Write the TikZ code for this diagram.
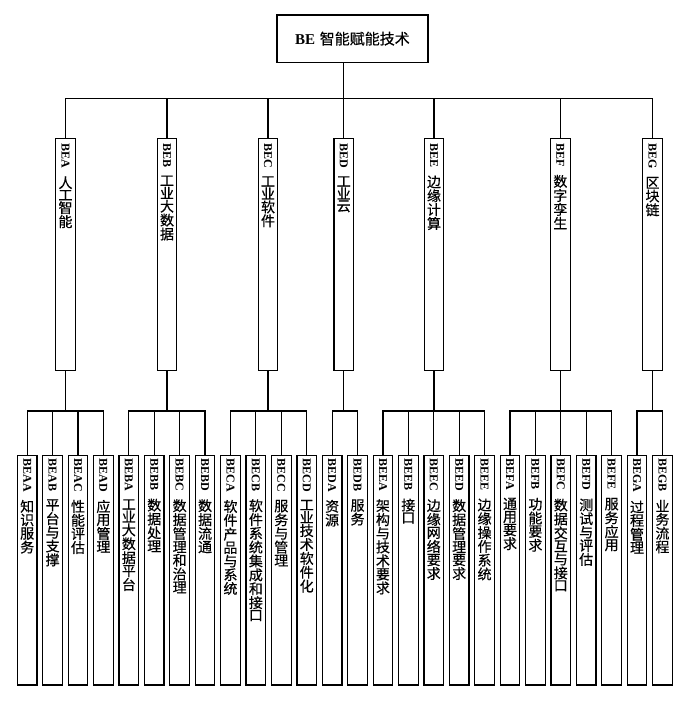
\documentclass[tikz,border=0pt]{standalone}
\usepackage{fontspec}
\usepackage{graphicx}
\newfontfamily\cjk{Noto Sans CJK SC}[FakeBold=0.5]
\newfontfamily\latin{Liberation Serif}
\def\vcharsloop#1{\ifx#1\relax\else\hbox to 18pt{\hss\cjk #1\hss}\kern1pt\expandafter\vcharsloop\fi}
\newcommand\vlabel[2]{\vbox{\offinterlineskip\hbox to 18pt{\hss\rotatebox{-90}{\fontsize{12}{14}\selectfont\latin\bfseries #1}\hss}\kern8pt\fontsize{14}{15}\selectfont\vcharsloop#2\relax}}
\tikzset{
  vb/.style={draw, anchor=north, minimum width=19.6pt, inner sep=0pt},
  topbox/.style={draw, minimum width=151pt, minimum height=47.3pt, inner sep=0pt},
}
\newcommand\lvtwo[4]{%
  \node[vb] (#1) at (#2,138) {\vbox to 232pt{\kern5pt\vlabel{#3}{#4}\vss}};}
\newcommand\lvthree[4]{%
  \node[vb] (#1) at (#2,455) {\vbox to 229.3pt{\kern3pt\vlabel{#3}{#4}\vss}};}
\begin{document}
\begin{tikzpicture}[x=1pt,y=-1pt,line width=1.2pt]
\useasboundingbox (0,0) rectangle (689,702);
\node[topbox] (be) at (352.5,38.65) {\fontsize{15}{18}\selectfont{\latin\bfseries BE}\ \cjk 智能赋能技术};
% level 2
\lvtwo{bea}{65.5}{BEA}{人工智能}
\lvtwo{beb}{167}{BEB}{工业大数据}
\lvtwo{bec}{268}{BEC}{工业软件}
\lvtwo{bed}{343.7}{BED}{工业云}
\lvtwo{bee}{434}{BEE}{边缘计算}
\lvtwo{bef}{560.3}{BEF}{数字孪生}
\lvtwo{beg}{652.5}{BEG}{区块链}
% level 3
\lvthree{beaa}{27.2}{BEAA}{知识服务}
\lvthree{beab}{52.61}{BEAB}{平台与支撑}
\lvthree{beac}{78.02}{BEAC}{性能评估}
\lvthree{bead}{103.43}{BEAD}{应用管理}
\lvthree{beba}{128.84}{BEBA}{工业大数据平台}
\lvthree{bebb}{154.25}{BEBB}{数据处理}
\lvthree{bebc}{179.66}{BEBC}{数据管理和治理}
\lvthree{bebd}{205.07}{BEBD}{数据流通}
\lvthree{beca}{230.48}{BECA}{软件产品与系统}
\lvthree{becb}{255.89}{BECB}{软件系统集成和接口}
\lvthree{becc}{281.3}{BECC}{服务与管理}
\lvthree{becd}{306.71}{BECD}{工业技术软件化}
\lvthree{beda}{332.12}{BEDA}{资源}
\lvthree{bedb}{357.53}{BEDB}{服务}
\lvthree{beea}{382.94}{BEEA}{架构与技术要求}
\lvthree{beeb}{408.35}{BEEB}{接口}
\lvthree{beec}{433.76}{BEEC}{边缘网络要求}
\lvthree{beed}{459.17}{BEED}{数据管理要求}
\lvthree{beee}{484.58}{BEEE}{边缘操作系统}
\lvthree{befa}{509.99}{BEFA}{通用要求}
\lvthree{befb}{535.4}{BEFB}{功能要求}
\lvthree{befc}{560.81}{BEFC}{数据交互与接口}
\lvthree{befd}{586.22}{BEFD}{测试与评估}
\lvthree{befe}{611.63}{BEFE}{服务应用}
\lvthree{bega}{637.04}{BEGA}{过程管理}
\lvthree{begb}{662.45}{BEGB}{业务流程}
% connectors level 1 -> 2
\coordinate (busA) at (0,98.7);
\draw (be.south -| bed.north) -- (bed.north);
\draw (bea.north) |- (busA -| beg.north) -- (beg.north);
\foreach \n in {beb,bec,bee,bef} \draw (\n.north) -- (\n.north |- busA);
% connectors level 2 -> 3
\coordinate (busB) at (0,411);
\foreach \p/\f/\l in {bea/beaa/bead, beb/beba/bebd, bec/beca/becd, bed/beda/bedb, bee/beea/beee, bef/befa/befe, beg/bega/begb} {
  \draw (\p.south) -- (\p.south |- busB);
  \draw (\f.north) |- (busB -| \l.north) -- (\l.north);
}
\foreach \n in {beab,beac,bebb,bebc,becb,becc,beeb,beec,beed,befb,befc,befd} \draw (\n.north) -- (\n.north |- busB);
\end{tikzpicture}
\end{document}
